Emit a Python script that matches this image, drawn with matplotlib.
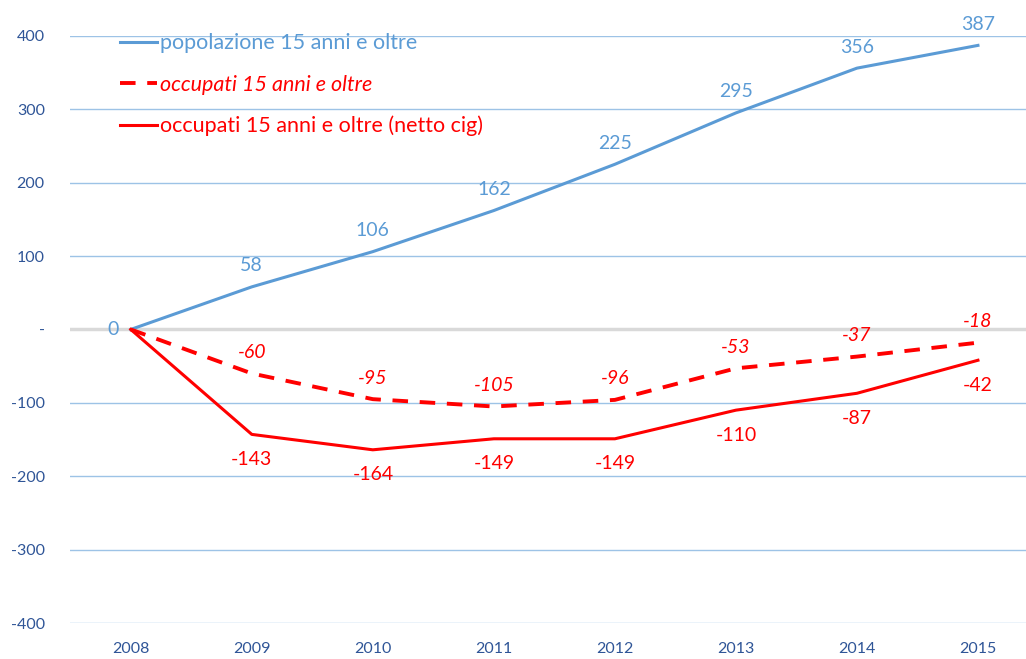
import matplotlib.pyplot as plt

years = ['2008', '2009', '2010', '2011', '2012', '2013', '2014', '2015']
popolazione = [0, 58, 106, 162, 225, 295, 356, 387]
occupati = [0, -60, -95, -105, -96, -53, -37, -18]
occupati_netto = [0, -143, -164, -149, -149, -110, -87, -42]
yticks = [-400, -300, -200, -100, 0, 100, 200, 300, 400]
ytick_labels = ['-400', '-300', '-200', '-100', '-', '100', '200', '300', '400']

blue = '#5B9BD5'
red = '#FF0000'
axis_col = '#2F5597'

plt.rcParams['font.family'] = ['Lato', 'DejaVu Sans']

fig = plt.figure(figsize=(10.26, 6.59), dpi=100)
ax = fig.add_axes([0.068, 0.0546, 0.932, 0.891])

x = list(range(len(years)))

for y in yticks:
    if y == 0:
        ax.axhline(y, color='#D9D9D9', linewidth=2.5, zorder=1)
    else:
        ax.axhline(y, color='#9DC3E6', linewidth=1, zorder=1)

ax.plot(x, popolazione, color=blue, linewidth=2.2, label='popolazione 15 anni e oltre', zorder=3)
ax.plot(x, occupati, color=red, linewidth=2.8, linestyle=(0, (4, 3)),
        label='occupati 15 anni e oltre', zorder=3)
ax.plot(x, occupati_netto, color=red, linewidth=2.2,
        label='occupati 15 anni e oltre (netto cig)', zorder=3)

for i, v in enumerate(popolazione):
    if i == 0:
        ax.annotate(str(v), (i, v), xytext=(-13, 0), textcoords='offset points',
                    ha='center', va='center', color=blue, fontsize=14)
    else:
        ax.annotate(str(v), (i, v), xytext=(0, 9), textcoords='offset points',
                    ha='center', va='bottom', color=blue, fontsize=14)

for i, v in enumerate(occupati):
    if i == 0:
        continue
    ax.annotate(str(v), (i, v), xytext=(0, 9), textcoords='offset points',
                ha='center', va='bottom', color=red, fontsize=14, style='italic')

for i, v in enumerate(occupati_netto):
    if i == 0:
        continue
    ax.annotate(str(v), (i, v), xytext=(0, -12), textcoords='offset points',
                ha='center', va='top', color=red, fontsize=14)

ax.set_xlim(-0.504, 7.397)
ax.set_ylim(-400, 400)
ax.set_xticks(x)
ax.set_xticklabels(years)
ax.set_yticks(yticks)
ax.set_yticklabels(ytick_labels)
ax.tick_params(axis='both', length=0, colors=axis_col, labelsize=11.5)
ax.tick_params(axis='x', pad=14)
ax.tick_params(axis='y', pad=18)
for s in ax.spines.values():
    s.set_visible(False)

leg = ax.legend(loc='upper left', bbox_to_anchor=(0.032, 1.037), frameon=False,
                fontsize=15.5, handlelength=1.75, handletextpad=0.1, labelspacing=0.98)
for txt, col in zip(leg.get_texts(), [blue, red, red]):
    txt.set_color(col)
leg.get_texts()[1].set_style('italic')

fig.savefig('out.png', dpi=100)
